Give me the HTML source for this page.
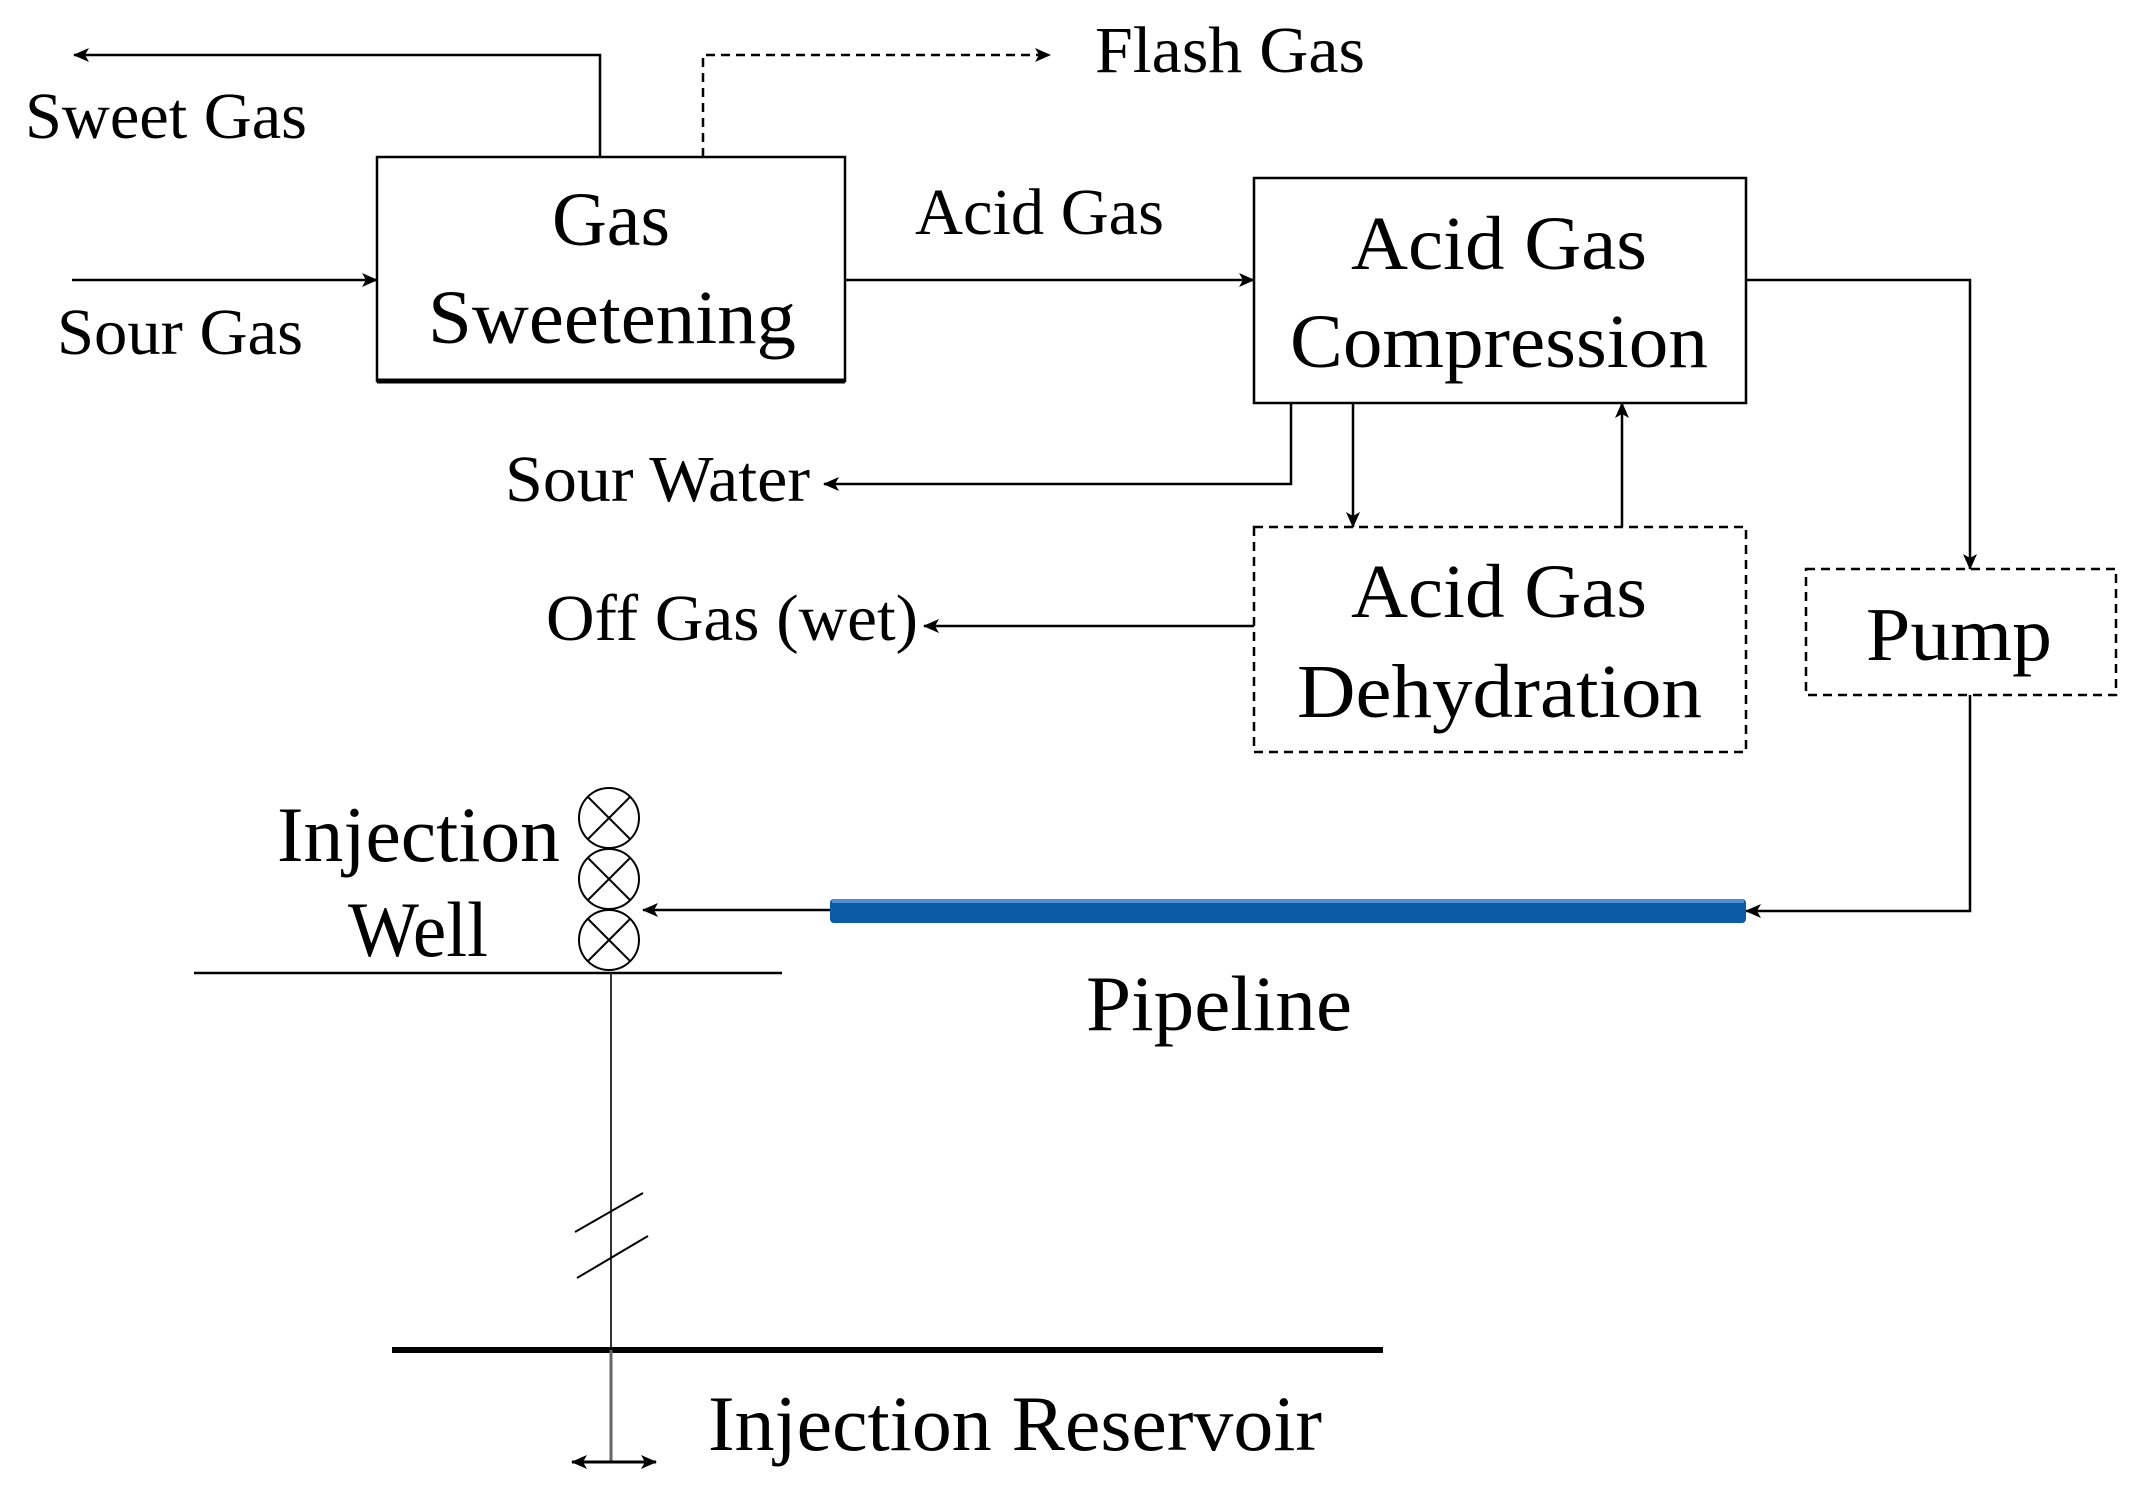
<!DOCTYPE html>
<html><head><meta charset="utf-8"><style>
html,body{margin:0;padding:0;background:#fff}
svg{display:block}
text{font-family:"Liberation Serif","Times New Roman",serif;fill:#000}
</style></head><body>
<svg width="2131" height="1489" viewBox="0 0 2131 1489" xmlns="http://www.w3.org/2000/svg">
<defs>
<marker id="a2" markerWidth="16" markerHeight="14" refX="15" refY="7" orient="auto" markerUnits="userSpaceOnUse" viewBox="0 0 16 14">
<path d="M0,0 L16,7 L0,14 L4,7 Z" fill="#000"/></marker>
<marker id="a3" markerWidth="16" markerHeight="14" refX="15" refY="7" orient="auto-start-reverse" markerUnits="userSpaceOnUse" viewBox="0 0 16 14">
<path d="M0,0 L16,7 L0,14 L4,7 Z" fill="#000"/></marker>
</defs>
<g stroke="#000" stroke-width="2.5" fill="none">
<rect x="377" y="157" width="468" height="224"/>
<line x1="377" y1="381" x2="845" y2="381" stroke-width="5"/>
<polyline points="600,157 600,55 74,55" marker-end="url(#a2)"/>
<polyline points="703,157 703,55 1050,55" stroke-dasharray="9,6" marker-end="url(#a2)"/>
<line x1="72" y1="280" x2="377" y2="280" marker-end="url(#a2)"/>
<line x1="845" y1="280" x2="1254" y2="280" marker-end="url(#a2)"/>
<rect x="1254" y="178" width="492" height="225"/>
<rect x="1254" y="527" width="492" height="225" stroke-dasharray="9,6"/>
<rect x="1806" y="569" width="310" height="126" stroke-dasharray="9,6"/>
<polyline points="1746,280 1970,280 1970,569" marker-end="url(#a2)"/>
<line x1="1353" y1="403" x2="1353" y2="527" marker-end="url(#a2)"/>
<line x1="1622" y1="527" x2="1622" y2="403" marker-end="url(#a2)"/>
<polyline points="1291,403 1291,484 824,484" marker-end="url(#a2)"/>
<line x1="1254" y1="626" x2="924" y2="626" marker-end="url(#a2)"/>
<polyline points="1970,695 1970,911 1746,911" marker-end="url(#a2)"/>
<line x1="830" y1="910" x2="643" y2="910" marker-end="url(#a2)"/>
<g stroke-width="2">
<ellipse cx="609" cy="818" rx="30" ry="30"/>
<ellipse cx="609" cy="879" rx="30" ry="30"/>
<ellipse cx="609" cy="940" rx="30" ry="30"/>
<path d="M588,797 L630,839 M630,797 L588,839 M588,858 L630,900 M630,858 L588,900 M588,919 L630,961 M630,919 L588,961"/>
</g>
<line x1="194" y1="973" x2="782" y2="973"/>
<line x1="611" y1="973" x2="611" y2="1352" stroke-width="2" stroke="#333"/>
<line x1="575" y1="1232" x2="643" y2="1193" stroke-width="2"/>
<line x1="577" y1="1278" x2="648" y2="1236" stroke-width="2"/>
<line x1="392" y1="1350" x2="1383" y2="1350" stroke-width="6"/>
<line x1="611" y1="1350" x2="611" y2="1462" stroke-width="3" stroke="#666"/>
<line x1="572" y1="1462" x2="656" y2="1462" stroke-width="3" marker-end="url(#a3)" marker-start="url(#a3)"/>
</g>
<rect x="830" y="899" width="916" height="24" rx="4" fill="#0b5aa6"/>
<rect x="832" y="899" width="912" height="4" fill="#4f8fd0"/>
<text x="25" y="138" font-size="66" textLength="282" lengthAdjust="spacingAndGlyphs">Sweet Gas</text>
<text x="57" y="354" font-size="66" textLength="246" lengthAdjust="spacingAndGlyphs">Sour Gas</text>
<text x="1095" y="72" font-size="66" textLength="270" lengthAdjust="spacingAndGlyphs">Flash Gas</text>
<text x="915" y="234" font-size="66" textLength="249" lengthAdjust="spacingAndGlyphs">Acid Gas</text>
<text x="552" y="245" font-size="76" textLength="118" lengthAdjust="spacingAndGlyphs">Gas</text>
<text x="428" y="343" font-size="76" textLength="368" lengthAdjust="spacingAndGlyphs">Sweetening</text>
<text x="1351" y="269" font-size="76" textLength="296" lengthAdjust="spacingAndGlyphs">Acid Gas</text>
<text x="1290" y="367" font-size="76" textLength="418" lengthAdjust="spacingAndGlyphs">Compression</text>
<text x="1351" y="617" font-size="76" textLength="296" lengthAdjust="spacingAndGlyphs">Acid Gas</text>
<text x="1297" y="717" font-size="76" textLength="405" lengthAdjust="spacingAndGlyphs">Dehydration</text>
<text x="1866" y="660" font-size="76" textLength="186" lengthAdjust="spacingAndGlyphs">Pump</text>
<text x="505" y="501" font-size="66" textLength="305" lengthAdjust="spacingAndGlyphs">Sour Water</text>
<text x="546" y="640" font-size="66" textLength="372" lengthAdjust="spacingAndGlyphs">Off Gas (wet)</text>
<text x="277" y="861" font-size="78" textLength="283" lengthAdjust="spacingAndGlyphs">Injection</text>
<text x="348" y="956" font-size="78" textLength="140" lengthAdjust="spacingAndGlyphs">Well</text>
<text x="1086" y="1030" font-size="78" textLength="266" lengthAdjust="spacingAndGlyphs">Pipeline</text>
<text x="708" y="1450" font-size="78" textLength="614" lengthAdjust="spacingAndGlyphs">Injection Reservoir</text>
</svg>
</body></html>
